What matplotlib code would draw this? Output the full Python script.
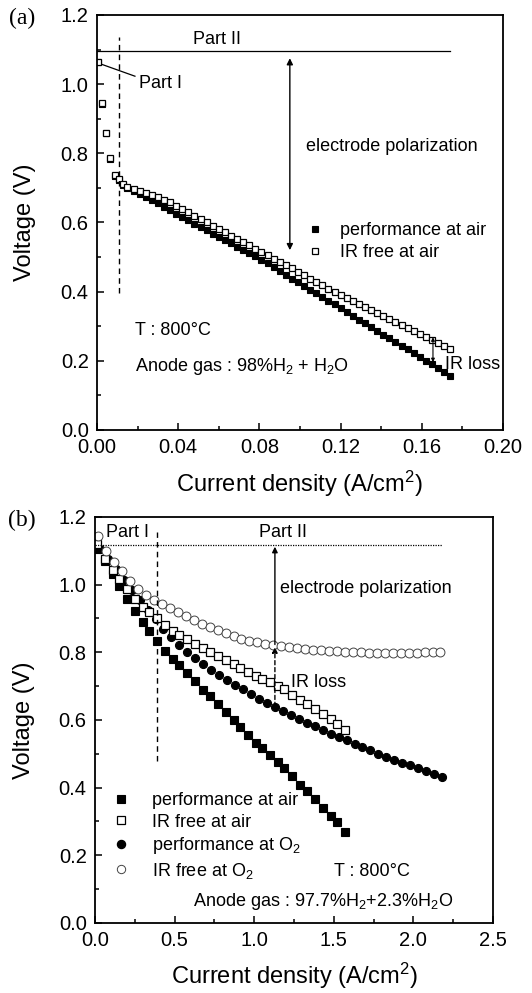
import matplotlib.pyplot as plt
from matplotlib.ticker import MultipleLocator, FormatStrFormatter

plt.rcParams['font.family'] = ['Liberation Sans', 'DejaVu Sans']
plt.rcParams['mathtext.fontset'] = 'custom'
plt.rcParams['mathtext.rm'] = 'Liberation Sans'
plt.rcParams['mathtext.default'] = 'regular'

# ---- (a) cell with air cathode, 98% H2 + H2O anode ----
current_a = [0.0006, 0.0023, 0.0044, 0.0064, 0.0089, 0.0108, 0.0128,
             0.015, 0.018, 0.021, 0.024, 0.027, 0.030, 0.033, 0.036, 0.039,
             0.042, 0.045, 0.048, 0.051, 0.054, 0.057, 0.060, 0.063, 0.066,
             0.069, 0.072, 0.075, 0.078, 0.081, 0.084, 0.087, 0.090, 0.093,
             0.096, 0.099, 0.102, 0.105, 0.108, 0.111, 0.114, 0.117, 0.120,
             0.123, 0.126, 0.129, 0.132, 0.135, 0.138, 0.141, 0.144, 0.147,
             0.150, 0.153, 0.156, 0.159, 0.162, 0.165, 0.168, 0.171, 0.174]
perf_air_a = [1.063, 0.944, 0.858, 0.784, 0.735, 0.722, 0.708,
              0.700, 0.691, 0.682, 0.673, 0.664, 0.655, 0.645, 0.635, 0.625,
              0.616, 0.606, 0.597, 0.587, 0.578, 0.568, 0.559, 0.549, 0.540,
              0.530, 0.521, 0.511, 0.502, 0.492, 0.482, 0.471, 0.460, 0.449,
              0.438, 0.428, 0.417, 0.406, 0.395, 0.384, 0.373, 0.363, 0.352,
              0.341, 0.330, 0.319, 0.308, 0.298, 0.287, 0.276, 0.265, 0.254,
              0.244, 0.233, 0.222, 0.211, 0.200, 0.190, 0.179, 0.168, 0.157]
irfree_air_a = [1.065, 0.946, 0.860, 0.786, 0.737, 0.725, 0.712,
                0.703, 0.698, 0.692, 0.686, 0.680, 0.673, 0.666, 0.658, 0.649,
                0.640, 0.630, 0.620, 0.610, 0.601, 0.591, 0.581, 0.572, 0.562,
                0.553, 0.543, 0.534, 0.524, 0.514, 0.505, 0.495, 0.486, 0.476,
                0.467, 0.457, 0.447, 0.438, 0.428, 0.419, 0.409, 0.400, 0.390,
                0.381, 0.373, 0.364, 0.355, 0.347, 0.338, 0.329, 0.321, 0.312,
                0.303, 0.295, 0.286, 0.277, 0.269, 0.260, 0.251, 0.243, 0.234]

# ---- (b) air vs O2 cathode, 97.7% H2 + 2.3% H2O anode ----
current_b_air = [0.015, 0.06, 0.11, 0.15, 0.20, 0.25, 0.30, 0.34, 0.39, 0.44,
                 0.49, 0.53, 0.58, 0.63, 0.68, 0.72, 0.77, 0.82, 0.87, 0.91,
                 0.96, 1.01, 1.05, 1.10, 1.15, 1.19, 1.24, 1.29, 1.33, 1.38,
                 1.43, 1.48, 1.52, 1.57]
perf_air_b = [1.105, 1.070, 1.030, 0.995, 0.958, 0.923, 0.891, 0.862, 0.832,
              0.805, 0.781, 0.762, 0.738, 0.714, 0.690, 0.671, 0.647, 0.623,
              0.599, 0.579, 0.555, 0.533, 0.516, 0.496, 0.476, 0.458, 0.435,
              0.409, 0.389, 0.366, 0.341, 0.316, 0.298, 0.270]
irfree_air_b = [1.120, 1.075, 1.043, 1.018, 0.988, 0.957, 0.933, 0.918, 0.901,
                0.880, 0.864, 0.852, 0.838, 0.826, 0.813, 0.802, 0.790, 0.777,
                0.764, 0.754, 0.741, 0.730, 0.721, 0.711, 0.700, 0.691, 0.675,
                0.660, 0.648, 0.633, 0.617, 0.602, 0.589, 0.570]

current_b_o2 = [0.03, 0.08, 0.13, 0.18, 0.23, 0.28, 0.33, 0.38, 0.43, 0.48,
                0.53, 0.58, 0.63, 0.68, 0.73, 0.78, 0.83, 0.88, 0.93, 0.98,
                1.03, 1.08, 1.13, 1.18, 1.23, 1.28, 1.33, 1.38, 1.43, 1.48,
                1.53, 1.58, 1.63, 1.68, 1.73, 1.78, 1.83, 1.88, 1.93, 1.98,
                2.03, 2.08, 2.13, 2.18]
perf_o2_b = [1.105, 1.075, 1.045, 1.015, 0.985, 0.955, 0.925, 0.897, 0.870,
             0.845, 0.822, 0.801, 0.782, 0.765, 0.749, 0.733, 0.718, 0.704,
             0.691, 0.678, 0.662, 0.650, 0.638, 0.626, 0.614, 0.603, 0.592,
             0.581, 0.571, 0.560, 0.550, 0.540, 0.530, 0.520, 0.510, 0.500,
             0.491, 0.482, 0.474, 0.466, 0.458, 0.448, 0.440, 0.432]

current_b_o2_free = [0.02, 0.07, 0.12, 0.17, 0.22, 0.27, 0.32, 0.37, 0.42,
                     0.47, 0.52, 0.57, 0.62, 0.67, 0.72, 0.77, 0.82, 0.87,
                     0.92, 0.97, 1.02, 1.07, 1.12, 1.17, 1.22, 1.27, 1.32,
                     1.37, 1.42, 1.47, 1.52, 1.57, 1.62, 1.67, 1.72, 1.77,
                     1.82, 1.87, 1.92, 1.97, 2.02, 2.07, 2.12, 2.17]
irfree_o2_b = [1.145, 1.100, 1.068, 1.040, 1.012, 0.988, 0.969, 0.955, 0.943,
               0.931, 0.919, 0.906, 0.895, 0.885, 0.875, 0.866, 0.856, 0.848,
               0.840, 0.834, 0.829, 0.825, 0.821, 0.818, 0.815, 0.812, 0.810,
               0.808, 0.806, 0.804, 0.803, 0.802, 0.801, 0.800, 0.799, 0.799,
               0.798, 0.798, 0.798, 0.798, 0.799, 0.800, 0.801, 0.802]

TICK_FS = 14.5
LABEL_FS = 17
NOTE_FS = 13


def style_axes(ax, xmax, xmajor, xminor, xfmt):
    ax.set_xlim(0, xmax)
    ax.set_ylim(0, 1.2)
    ax.xaxis.set_major_locator(MultipleLocator(xmajor))
    ax.xaxis.set_minor_locator(MultipleLocator(xminor))
    ax.xaxis.set_major_formatter(FormatStrFormatter(xfmt))
    ax.yaxis.set_major_locator(MultipleLocator(0.2))
    ax.yaxis.set_minor_locator(MultipleLocator(0.1))
    ax.yaxis.set_major_formatter(FormatStrFormatter('%.1f'))
    ax.tick_params(which='both', direction='in', top=False, right=False,
                   labelsize=TICK_FS, width=1.1, pad=6)
    ax.tick_params(which='major', length=5)
    ax.tick_params(which='minor', length=3)
    for sp in ax.spines.values():
        sp.set_linewidth(1.3)
    ax.set_xlabel('Current density (A/cm$^2$)', fontsize=LABEL_FS)
    ax.set_ylabel('Voltage (V)', fontsize=LABEL_FS)
    ax.xaxis.set_label_coords(0.5, -0.093)
    ax.yaxis.set_label_coords(-0.15, 0.5)


fig = plt.figure(figsize=(5.32, 9.93), dpi=100)
ax1 = fig.add_axes([0.1823, 0.5670, 0.7632, 0.4179])
ax2 = fig.add_axes([0.1786, 0.0705, 0.7481, 0.4089])

# ---------------- panel (a) ----------------
style_axes(ax1, 0.2, 0.04, 0.02, '%.2f')
ax1.plot(current_a, perf_air_a, ls='none', marker='s', ms=5.0,
         mfc='black', mec='black', mew=0.8, label='performance at air')
ax1.plot(current_a, irfree_air_a, ls='none', marker='s', ms=4.6,
         mfc='white', mec='black', mew=0.9, label='IR free at air')

ax1.plot([0, 0.174], [1.095, 1.095], color='black', lw=0.9)
ax1.text(0.059, 1.128, 'Part II', fontsize=NOTE_FS, ha='center', va='center')
ax1.plot([0.0108, 0.0108], [0.395, 1.137], color='black', lw=1.0,
         ls=(0, (4, 3)))
ax1.plot([0.0187, 0.0025], [1.023, 1.057], color='black', lw=0.9)
ax1.text(0.0205, 1.003, 'Part I', fontsize=NOTE_FS, ha='left', va='center')
ax1.annotate('', xy=(0.095, 1.075), xytext=(0.095, 0.52),
             arrowprops=dict(arrowstyle='<|-|>', color='black', lw=1.0,
                             mutation_scale=9, shrinkA=0, shrinkB=0))
ax1.text(0.103, 0.819, 'electrode polarization', fontsize=NOTE_FS,
         ha='left', va='center')
ax1.annotate('', xy=(0.1655, 0.268), xytext=(0.1655, 0.196),
             arrowprops=dict(arrowstyle='<|-|>', color='black', lw=0.8,
                             mutation_scale=5, shrinkA=0, shrinkB=0))
ax1.text(0.1712, 0.188, 'IR loss', fontsize=NOTE_FS, ha='left', va='center')
ax1.text(0.0187, 0.289, 'T : 800°C', fontsize=NOTE_FS, ha='left',
         va='center')
ax1.text(0.0187, 0.183, 'Anode gas : 98%H$_2$ + H$_2$O', fontsize=NOTE_FS,
         ha='left', va='center')
ax1.legend(loc='upper left', bbox_to_anchor=(0.515, 0.500), frameon=False,
           fontsize=NOTE_FS, handlelength=1.0, handletextpad=0.9,
           borderpad=0, borderaxespad=0, labelspacing=0.25, markerscale=1.0)

# ---------------- panel (b) ----------------
style_axes(ax2, 2.5, 0.5, 0.25, '%.1f')
ax2.plot(current_b_air, perf_air_b, ls='none', marker='s', ms=5.2,
         mfc='black', mec='black', mew=0.8, label='performance at air')
ax2.plot(current_b_o2, perf_o2_b, ls='none', marker='o', ms=5.8,
         mfc='black', mec='black', mew=0.8)
ax2.plot(current_b_air, irfree_air_b, ls='none', marker='s', ms=5.2,
         mfc='white', mec='black', mew=0.9, label='IR free at air')
ax2.plot(current_b_o2_free, irfree_o2_b, ls='none', marker='o', ms=6.4,
         mfc='white', mec='#444444', mew=0.7)
# legend handles for the O2 series, in legend order
h_o2, = ax2.plot([], [], ls='none', marker='o', ms=5.8, mfc='black',
                 mec='black', label='performance at O$_2$')
h_o2f, = ax2.plot([], [], ls='none', marker='o', ms=6.0, mfc='white',
                  mec='#444444', mew=0.7, label='IR free at O$_2$')

ax2.plot([0, 2.18], [1.117, 1.117], color='black', lw=0.9, ls=(0, (1, 1)))
ax2.text(0.07, 1.155, 'Part I', fontsize=NOTE_FS, ha='left', va='center')
ax2.text(1.18, 1.155, 'Part II', fontsize=NOTE_FS, ha='center', va='center')
ax2.plot([0.39, 0.39], [0.48, 1.155], color='black', lw=1.0, ls=(0, (4, 3)))
ax2.annotate('', xy=(1.13, 1.112), xytext=(1.13, 0.823),
             arrowprops=dict(arrowstyle='-|>', color='black', lw=1.0,
                             mutation_scale=8, shrinkA=0, shrinkB=0))
ax2.annotate('', xy=(1.13, 0.815), xytext=(1.13, 0.64),
             arrowprops=dict(arrowstyle='-|>', color='black', lw=1.0,
                             ls=(0, (3, 2)), mutation_scale=8,
                             shrinkA=0, shrinkB=0))
ax2.text(1.16, 0.989, 'electrode polarization', fontsize=NOTE_FS,
         ha='left', va='center')
ax2.text(1.23, 0.712, 'IR loss', fontsize=NOTE_FS, ha='left', va='center')
ax2.text(1.50, 0.152, 'T : 800°C', fontsize=NOTE_FS, ha='left',
         va='center')
ax2.text(0.617, 0.063, 'Anode gas : 97.7%H$_2$+2.3%H$_2$O',
         fontsize=NOTE_FS, ha='left', va='center')

handles, labels = ax2.get_legend_handles_labels()
order = ['performance at air', 'IR free at air',
         'performance at O$_2$', 'IR free at O$_2$']
hmap = dict(zip(labels, handles))
ax2.legend([hmap[k] for k in order], order, loc='upper left',
           bbox_to_anchor=(0.043, 0.322), frameon=False, fontsize=NOTE_FS,
           handlelength=1.0, handletextpad=1.2, borderpad=0,
           borderaxespad=0, labelspacing=0.25)

fig.text(0.041, 1 - 18 / 993, '(a)', fontsize=17, ha='center', va='center',
         family=['Liberation Serif', 'DejaVu Serif'])
fig.text(0.041, 1 - 520 / 993, '(b)', fontsize=17, ha='center', va='center',
         family=['Liberation Serif', 'DejaVu Serif'])

fig.savefig('out.png', dpi=100)
